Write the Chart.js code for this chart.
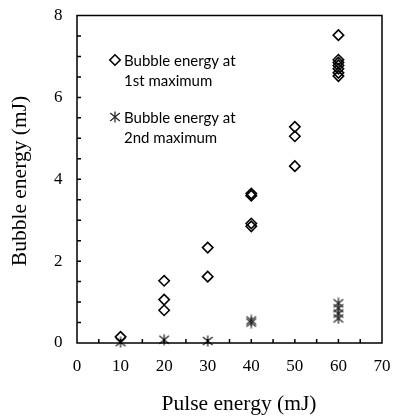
<!DOCTYPE html>
<html>
<head>
<meta charset="utf-8">
<script src="https://cdn.jsdelivr.net/npm/chart.js@4"></script>
<style>
  html, body { margin: 0; padding: 0; background: #fff; }
  #wrap { width: 393px; height: 417px; }
</style>
</head>
<body>
<div id="wrap"><canvas id="c" width="393" height="417"></canvas></div>
<script>
// Pulse energy (mJ) for each measurement at the first bubble maximum
const pulseFirst = [10, 20, 20, 20, 30, 30, 40, 40, 40, 40, 50, 50, 50, 60, 60, 60, 60, 60, 60, 60];
// Bubble energy (mJ) at the first maximum
const energyFirst = [0.15, 1.52, 1.06, 0.80, 2.33, 1.62, 3.65, 3.60, 2.92, 2.85, 5.28, 5.05, 4.32, 7.52, 6.92, 6.85, 6.78, 6.70, 6.60, 6.52];

// Pulse energy (mJ) for each measurement at the second bubble maximum
const pulseSecond = [10, 20, 30, 40, 40, 60, 60, 60, 60];
// Bubble energy (mJ) at the second maximum
const energySecond = [0.02, 0.08, 0.05, 0.55, 0.50, 0.97, 0.85, 0.72, 0.60];

const xTickLabels = [0, 10, 20, 30, 40, 50, 60, 70];
const yTickLabels = [0, 2, 4, 6, 8];

const seriesNames = [
  ['Bubble energy at', '1st maximum'],
  ['Bubble energy at', '2nd maximum']
];

const SERIF = "'Liberation Serif', 'Times New Roman', serif";
const SANS = "Lato, 'Open Sans', sans-serif";

// Asterisk marker: a vertical stroke crossed by an X
function makeAsterisk() {
  const cv = document.createElement('canvas');
  cv.width = 12; cv.height = 12;
  const g = cv.getContext('2d');
  g.strokeStyle = '#2a2a2a';
  g.lineWidth = 1.3;
  g.beginPath();
  g.moveTo(6, 0.5); g.lineTo(6, 11.5);
  g.moveTo(1.2, 2); g.lineTo(10.8, 10);
  g.moveTo(10.8, 2); g.lineTo(1.2, 10);
  g.stroke();
  return cv;
}
const asterisk = makeAsterisk();

const toPoints = (xs, ys) => xs.map((x, i) => ({ x: x, y: ys[i] }));

// Frame, inward tick marks, tick labels, axis titles and the in-plot legend
const decorations = {
  id: 'decorations',
  afterDraw(chart) {
    const { ctx, chartArea: a, scales } = chart;
    const sx = scales.x, sy = scales.y;
    ctx.save();
    ctx.strokeStyle = '#000';
    ctx.lineWidth = 1.5;

    // inward tick marks
    ctx.beginPath();
    sx.ticks.forEach(t => {
      if (t.value > sx.min && t.value < sx.max) {
        const px = sx.getPixelForValue(t.value);
        ctx.moveTo(px, a.bottom);
        ctx.lineTo(px, a.bottom - 4);
      }
    });
    sy.ticks.forEach(t => {
      if (t.value > sy.min && t.value < sy.max) {
        const py = sy.getPixelForValue(t.value);
        ctx.moveTo(a.left, py);
        ctx.lineTo(a.left + 4, py);
      }
    });
    ctx.stroke();

    // plot frame
    ctx.strokeRect(a.left, a.top, a.right - a.left, a.bottom - a.top);

    // tick labels
    ctx.fillStyle = '#000';
    ctx.font = '17px ' + SERIF;
    ctx.textBaseline = 'middle';
    ctx.textAlign = 'center';
    xTickLabels.forEach(v => {
      ctx.fillText(String(v), sx.getPixelForValue(v), a.bottom + 24);
    });
    ctx.textAlign = 'right';
    yTickLabels.forEach(v => {
      ctx.fillText(String(v), a.left - 14.5, sy.getPixelForValue(v));
    });

    // axis titles
    ctx.font = '21.5px ' + SERIF;
    ctx.textAlign = 'center';
    ctx.fillText('Pulse energy (mJ)', 239, 404);
    ctx.save();
    ctx.translate(20, 181);
    ctx.rotate(-Math.PI / 2);
    ctx.fillText('Bubble energy (mJ)', 0, 0);
    ctx.restore();

    // legend
    const ds = chart.data.datasets;
    const rows = [60, 117];
    rows.forEach((my, i) => {
      const d = ds[i];
      ctx.fillStyle = 'rgba(0,0,0,0)';
      ctx.strokeStyle = d.borderColor;
      ctx.lineWidth = d.borderWidth;
      Chart.helpers.drawPoint(ctx, {
        pointStyle: d.pointStyle,
        radius: d.pointRadius,
        borderWidth: d.borderWidth,
        rotation: 0
      }, 115, my);
      ctx.fillStyle = '#000';
      ctx.font = '15px ' + SANS;
      ctx.textAlign = 'left';
      ctx.textBaseline = 'middle';
      ctx.fillText(seriesNames[i][0], 124, my + 1);
      ctx.fillText(seriesNames[i][1], 124, my + 21);
    });
    ctx.restore();
  }
};

new Chart(document.getElementById('c'), {
  type: 'scatter',
  data: {
    datasets: [
      {
        label: seriesNames[0].join(' '),
        data: toPoints(pulseFirst, energyFirst),
        pointStyle: 'rectRot',
        pointRadius: 5.2,
        borderWidth: 1.6,
        borderColor: '#000',
        backgroundColor: 'rgba(0,0,0,0)',
        clip: false
      },
      {
        label: seriesNames[1].join(' '),
        data: toPoints(pulseSecond, energySecond),
        pointStyle: asterisk,
        pointRadius: 5,
        borderWidth: 1.3,
        borderColor: '#2a2a2a',
        backgroundColor: '#2a2a2a',
        clip: false
      }
    ]
  },
  options: {
    responsive: false,
    animation: false,
    events: [],
    layout: { padding: { top: 15.5, right: 11, left: 0, bottom: 0 } },
    plugins: { legend: { display: false }, tooltip: { enabled: false } },
    scales: {
      x: {
        type: 'linear',
        min: xTickLabels[0],
        max: xTickLabels[xTickLabels.length - 1],
        grid: { display: false, drawTicks: false },
        border: { display: false },
        afterFit(s) { s.height = 74; },
        ticks: { stepSize: 5, autoSkip: false, display: false }
      },
      y: {
        type: 'linear',
        min: yTickLabels[0],
        max: yTickLabels[yTickLabels.length - 1],
        grid: { display: false, drawTicks: false },
        border: { display: false },
        afterFit(s) { s.width = 77; },
        ticks: { stepSize: 0.5, autoSkip: false, display: false }
      }
    }
  },
  plugins: [decorations]
});
</script>
</body>
</html>
